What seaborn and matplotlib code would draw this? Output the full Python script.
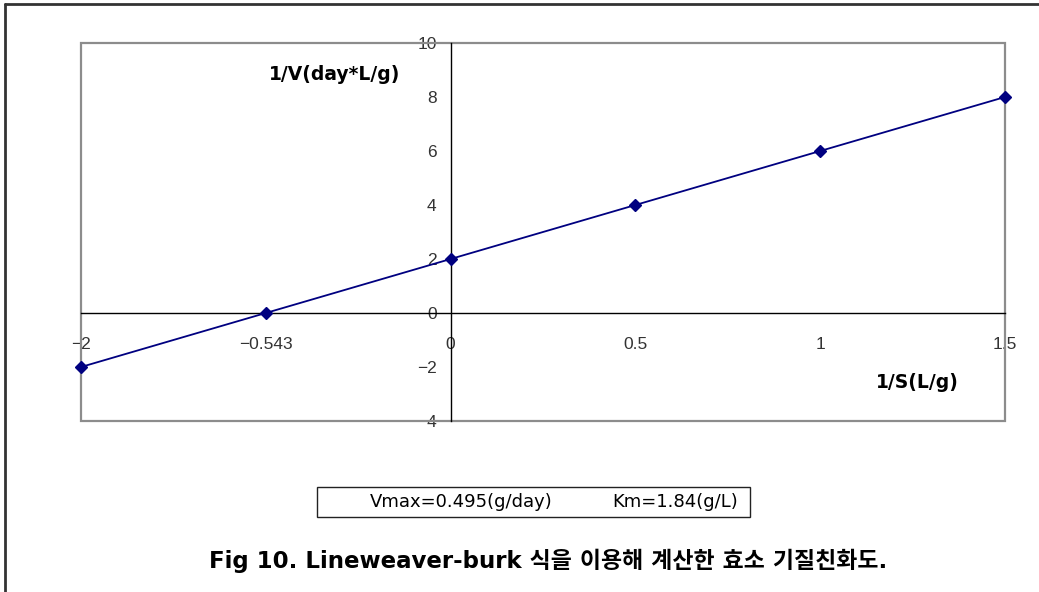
import matplotlib
matplotlib.use("Agg")
import matplotlib.pyplot as plt
from matplotlib.patches import Rectangle
from matplotlib.lines import Line2D
import seaborn as sns

# Lineweaver-Burk plot data (category positions along the 1/S axis)
x_labels = ["\u22122", "\u22120.543", "0", "0.5", "1", "1.5"]
inv_v = [-2, 0, 2, 4, 6, 8]
y_ticks = [-4, -2, 0, 2, 4, 6, 8, 10]

y_title = "1/V(day*L/g)"
x_title = "1/S(L/g)"
vmax_text = "Vmax=0.495(g/day)"
km_text = "Km=1.84(g/L)"
caption = "Fig 10. Lineweaver-burk 식을 이용해 계산한 효소 기질친화도."

sns.set_style("white")
plt.rcParams["font.family"] = ["Liberation Sans", "Noto Sans CJK KR", "DejaVu Sans"]
label_family = ["DejaVu Sans", "Noto Sans CJK KR"]

W, H = 1039, 592
fig = plt.figure(figsize=(W / 100, H / 100), dpi=100)

def fx(px):
    return px / W

def fy(py):
    return 1 - py / H

ax = fig.add_axes([fx(81), fy(421), fx(1005) - fx(81), fy(43) - fy(421)])

sns.pointplot(x=x_labels, y=inv_v, order=x_labels, color="#000080",
              markers="D", linestyles="-", errorbar=None,
              markersize=6, linewidth=1.3, ax=ax)
for ln in ax.lines:
    ln.set_clip_on(False)
    ln.set_zorder(5)

ax.set_xlim(0, len(x_labels) - 1)
ax.set_ylim(y_ticks[0], y_ticks[-1])
ax.set_yticks(y_ticks)
ax.set_xticks(range(len(x_labels)))
ax.set_xticklabels(x_labels)
ax.set_xlabel("")
ax.set_ylabel("")
ax.grid(False)

# axes crossing at 1/V = 0 and at the "0" category
cross = x_labels.index("0")
ax.spines["left"].set_position(("data", cross))
ax.spines["bottom"].set_position(("data", 0))
for s in ("left", "bottom"):
    ax.spines[s].set_color("black")
    ax.spines[s].set_linewidth(1.0)
for s in ("top", "right"):
    ax.spines[s].set_visible(False)

# grey plot-area frame
ax.add_patch(Rectangle((0, 0), 1, 1, transform=ax.transAxes, fill=False,
                       edgecolor="#8c8c8c", linewidth=1.6, clip_on=False, zorder=1))

ax.tick_params(axis="y", direction="in", length=5, width=1, pad=10,
               labelsize=12.5, labelcolor="#333333", color="black")
ax.tick_params(axis="x", direction="in", length=5, width=1, pad=17,
               labelsize=12.5, labelcolor="#333333", color="black")

fig.text(fx(335), fy(75), y_title, ha="center", va="center",
         fontsize=13.5, fontweight="bold", family=label_family, color="black")
fig.text(fx(917), fy(383), x_title, ha="center", va="center",
         fontsize=13.5, fontweight="bold", family=label_family, color="black")

# parameter box
fig.add_artist(Rectangle((fx(317), fy(517)), fx(750) - fx(317), fy(487) - fy(517),
                         transform=fig.transFigure, fill=False,
                         edgecolor="#222222", linewidth=1.0))
fig.text(fx(370), fy(502), vmax_text, ha="left", va="center", fontsize=13,
         family=label_family, color="black")
fig.text(fx(612), fy(502), km_text, ha="left", va="center", fontsize=13,
         family=label_family, color="black")

fig.text(fx(548), fy(561), caption, ha="center", va="center", fontsize=16.5,
         fontweight="bold", family=label_family, color="black")

# outer page frame (top and left edges)
fig.add_artist(Line2D([fx(5), fx(5)], [0, fy(4)], transform=fig.transFigure,
                      color="#333333", linewidth=2))
fig.add_artist(Line2D([fx(5), 1], [fy(4), fy(4)], transform=fig.transFigure,
                      color="#333333", linewidth=2))

fig.savefig("out.png", dpi=100)
